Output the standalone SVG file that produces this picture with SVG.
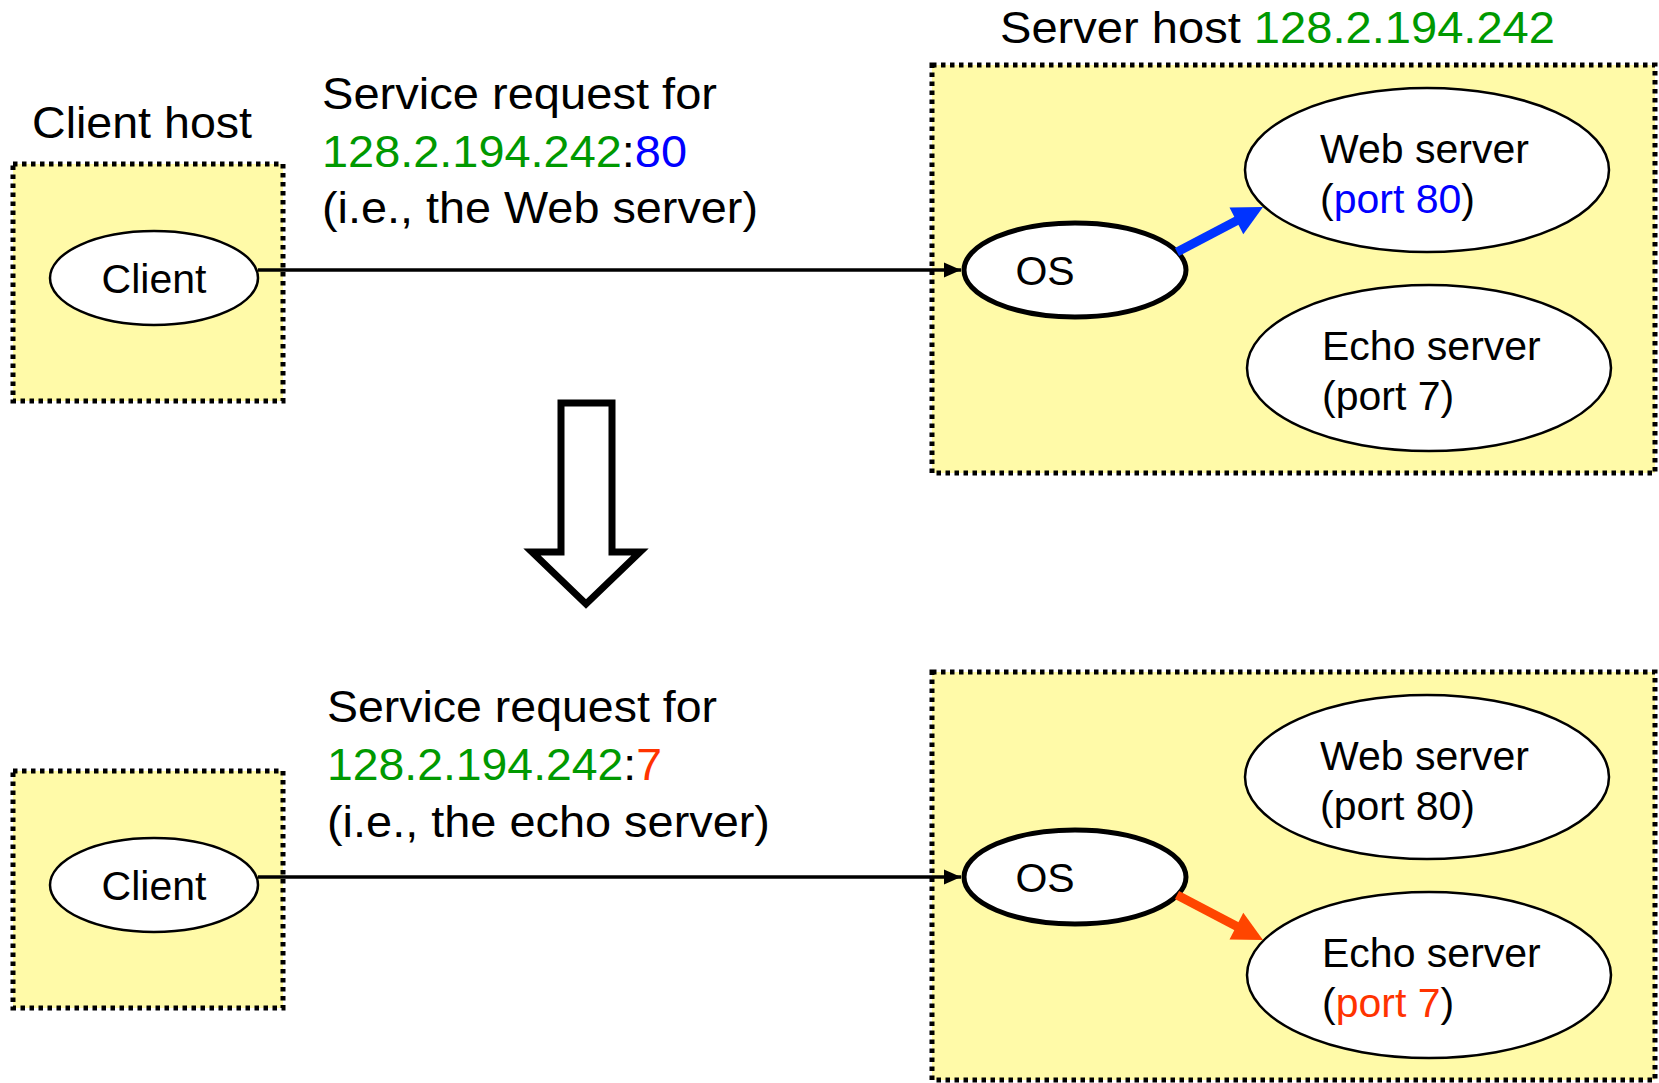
<svg xmlns="http://www.w3.org/2000/svg" width="1659" height="1083" viewBox="0 0 1659 1083">
<style>
.box{fill:#fffaa8;stroke:#000;stroke-width:5;stroke-dasharray:4.5 4.5}
.node{fill:#fff;stroke:#000;stroke-width:2.5}
.os{fill:#fff;stroke:#000;stroke-width:5}
.lbl{font-family:"Liberation Sans",Arial,sans-serif;font-size:44px;fill:#000}
.ntx{font-family:"Liberation Sans",Arial,sans-serif;font-size:41px;fill:#000}
.g{fill:#009900}.b{fill:#0000ff}.r{fill:#ff3300}
.conn{stroke:#000;stroke-width:3.5;fill:none}
</style>
<defs>
<marker id="ah" markerWidth="6" markerHeight="6" refX="5" refY="3" orient="auto" markerUnits="strokeWidth">
<path d="M0,0.8 L5,3 L0,5.2 z" fill="#000"/>
</marker>
</defs>
<rect width="1659" height="1083" fill="#fff"/>

<text class="lbl" x="32" y="138" textLength="220" lengthAdjust="spacingAndGlyphs">Client host</text>
<text class="lbl" x="1000" y="43" textLength="555" lengthAdjust="spacingAndGlyphs">Server host <tspan class="g">128.2.194.242</tspan></text>

<g id="top-labels">
<text class="lbl" x="322" y="109" textLength="395" lengthAdjust="spacingAndGlyphs">Service request for</text>
<text class="lbl" x="322" y="167" textLength="365" lengthAdjust="spacingAndGlyphs"><tspan class="g">128.2.194.242</tspan>:<tspan class="b">80</tspan></text>
<text class="lbl" x="322" y="223" textLength="436" lengthAdjust="spacingAndGlyphs">(i.e., the Web server)</text>
</g>
<g id="bottom-labels">
<text class="lbl" x="327" y="722" textLength="390" lengthAdjust="spacingAndGlyphs">Service request for</text>
<text class="lbl" x="327" y="780" textLength="335" lengthAdjust="spacingAndGlyphs"><tspan class="g">128.2.194.242</tspan>:<tspan class="r">7</tspan></text>
<text class="lbl" x="327" y="837" textLength="443" lengthAdjust="spacingAndGlyphs">(i.e., the echo server)</text>
</g>

<g id="client-host-top"><rect class="box" x="13" y="164" width="270" height="237"/></g>
<g id="server-host-top"><rect class="box" x="932" y="65" width="723" height="408"/></g>
<g id="client-host-bottom"><rect class="box" x="13" y="771" width="270" height="237"/></g>
<g id="server-host-bottom"><rect class="box" x="932" y="672" width="723" height="408"/></g>

<g id="client-top"><ellipse class="node" cx="154" cy="278" rx="104" ry="47"/><text class="ntx" x="154" y="293" text-anchor="middle">Client</text></g>
<g id="os-top"><ellipse class="os" cx="1075" cy="270" rx="111" ry="47"/><text class="ntx" x="1045" y="285" text-anchor="middle">OS</text></g>
<g id="web-top"><ellipse class="node" cx="1427" cy="170" rx="182" ry="82"/><text class="ntx" x="1320" y="163">Web server</text><text class="ntx" x="1320" y="213">(<tspan class="b">port 80</tspan>)</text></g>
<g id="echo-top"><ellipse class="node" cx="1429" cy="368" rx="182" ry="83"/><text class="ntx" x="1322" y="360">Echo server</text><text class="ntx" x="1322" y="410">(port 7)</text></g>

<g id="client-bottom"><ellipse class="node" cx="154" cy="885" rx="104" ry="47"/><text class="ntx" x="154" y="900" text-anchor="middle">Client</text></g>
<g id="os-bottom"><ellipse class="os" cx="1075" cy="877" rx="111" ry="47"/><text class="ntx" x="1045" y="892" text-anchor="middle">OS</text></g>
<g id="web-bottom"><ellipse class="node" cx="1427" cy="777" rx="182" ry="82"/><text class="ntx" x="1320" y="770">Web server</text><text class="ntx" x="1320" y="820">(port 80)</text></g>
<g id="echo-bottom"><ellipse class="node" cx="1429" cy="975" rx="182" ry="83"/><text class="ntx" x="1322" y="967">Echo server</text><text class="ntx" x="1322" y="1017">(<tspan class="r">port 7</tspan>)</text></g>

<g id="connectors">
<line class="conn" x1="258" y1="270" x2="961" y2="270" marker-end="url(#ah)"/>
<line class="conn" x1="258" y1="877" x2="961" y2="877" marker-end="url(#ah)"/>
<line x1="1177" y1="252" x2="1238" y2="220" stroke="#0033ff" stroke-width="9"/>
<polygon points="1263,207 1229.5,207.6 1243.3,234.2" fill="#0033ff"/>
<line x1="1177" y1="895" x2="1238" y2="927" stroke="#ff4500" stroke-width="9"/>
<polygon points="1263,940 1229.5,939.4 1243.3,912.8" fill="#ff4500"/>
<polygon points="561,403 612,403 612,552 640,552 586,604 532,552 561,552" fill="#fff" stroke="#000" stroke-width="7"/>
</g>
</svg>
